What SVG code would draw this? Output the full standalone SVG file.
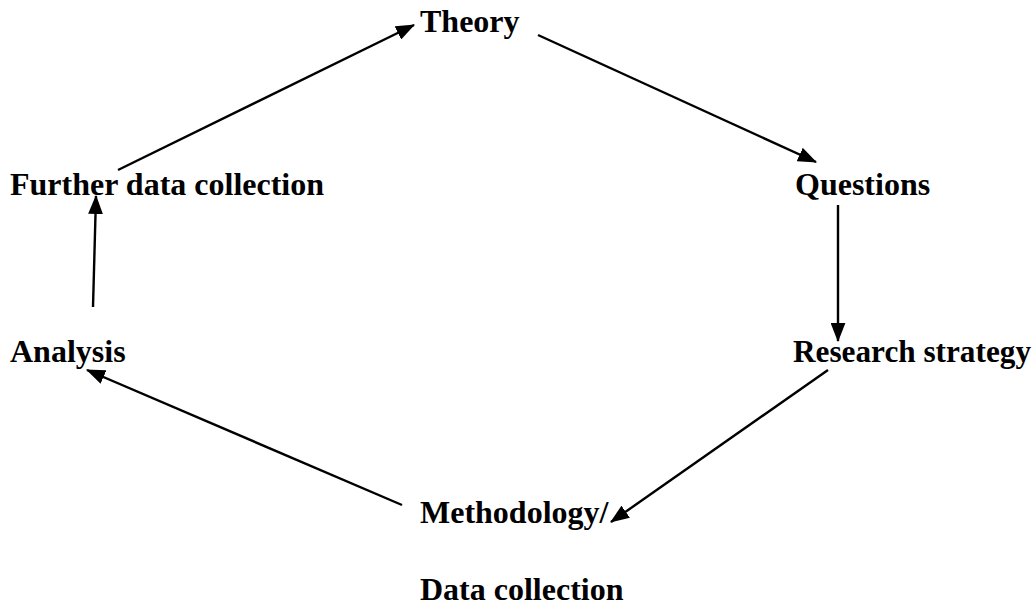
<svg xmlns="http://www.w3.org/2000/svg" width="1036" height="610" viewBox="0 0 1036 610">
<style>
text{font-family:"Liberation Serif","Times New Roman",serif;font-weight:bold;font-size:32px;fill:#000}
.c line{stroke:#000;stroke-width:2.4}
</style>
<defs>
<marker id="a" viewBox="0 0 18 14" refX="17" refY="7" markerWidth="19" markerHeight="15" markerUnits="userSpaceOnUse" orient="auto">
<path d="M0,0 L18,7 L0,14 z" fill="#000"/>
</marker>
</defs>
<rect width="1036" height="610" fill="#fff"/>
<g id="theory"><text x="420" y="32">Theory</text></g>
<g id="questions"><text x="795" y="195">Questions</text></g>
<g id="research"><text x="793" y="362" textLength="238" lengthAdjust="spacingAndGlyphs">Research strategy</text></g>
<g id="methodology"><text x="420" y="523">Methodology/</text><text x="420" y="600">Data collection</text></g>
<g id="analysis"><text x="10" y="362">Analysis</text></g>
<g id="further"><text x="10" y="195">Further data collection</text></g>
<g class="c" id="connectors">
<line x1="118" y1="170" x2="414" y2="25" marker-end="url(#a)"/>
<line x1="538" y1="35" x2="816" y2="162" marker-end="url(#a)"/>
<line x1="838" y1="205" x2="838" y2="341" marker-end="url(#a)"/>
<line x1="828" y1="370" x2="611" y2="522" marker-end="url(#a)"/>
<line x1="402" y1="505" x2="87" y2="370" marker-end="url(#a)"/>
<line x1="93" y1="307" x2="96" y2="196" marker-end="url(#a)"/>
</g>
</svg>
